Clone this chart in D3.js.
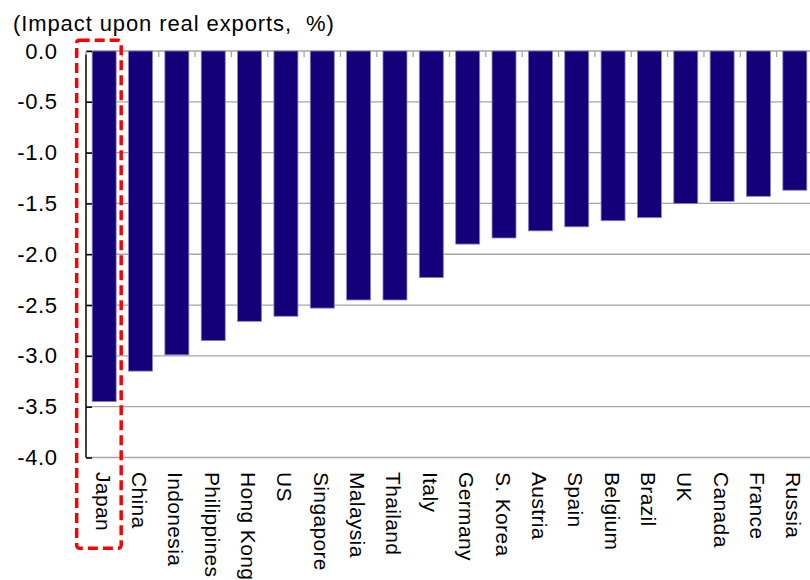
<!DOCTYPE html>
<html>
<head>
<meta charset="utf-8">
<script src="https://cdn.jsdelivr.net/npm/d3@7"></script>
<style>
  html, body { margin: 0; padding: 0; background: #fff; }
  svg { display: block; font-family: "Liberation Sans", Arial, sans-serif; }
</style>
</head>
<body>
<svg id="chart" width="810" height="580"></svg>
<script>
const categories = ["Japan","China","Indonesia","Philippines","Hong Kong","US","Singapore","Malaysia","Thailand","Italy","Germany","S. Korea","Austria","Spain","Belgium","Brazil","UK","Canada","France","Russia"];
const values = [-3.45,-3.15,-2.99,-2.85,-2.66,-2.61,-2.53,-2.45,-2.45,-2.23,-1.90,-1.84,-1.77,-1.73,-1.67,-1.64,-1.50,-1.48,-1.43,-1.37];
const yTicks = [0,-0.5,-1.0,-1.5,-2.0,-2.5,-3.0,-3.5,-4.0];
const titleText = "(Impact upon real exports,  %)";
const highlight = "Japan";

const svg = d3.select("#chart");
const pLeft = 86, pRight = 813, pTop = 51, pBottom = 457.5;

const x = d3.scaleBand().domain(categories).range([pLeft, pRight]).paddingInner(0.34).paddingOuter(0.17);
const y = d3.scaleLinear().domain([0, -4]).range([pTop, pBottom]);

// gridlines
svg.append("g").selectAll("line").data(yTicks).join("line")
  .attr("x1", pLeft).attr("x2", 810)
  .attr("y1", d => y(d)).attr("y2", d => y(d))
  .attr("stroke", "#a6a6a6").attr("stroke-width", 1.3);

// bars
svg.append("g").selectAll("rect").data(categories).join("rect")
  .attr("x", d => x(d))
  .attr("y", y(0))
  .attr("width", x.bandwidth())
  .attr("height", (d, i) => y(values[i]) - y(0))
  .attr("fill", "#140078")
  .attr("stroke", "#8a84c4").attr("stroke-width", 0.8);

// x axis ticks at band boundaries (inward)
const step = x.step();
svg.append("g").selectAll("line").data(categories.slice(1)).join("line")
  .attr("x1", d => x(d) - (step - x.bandwidth()) / 2)
  .attr("x2", d => x(d) - (step - x.bandwidth()) / 2)
  .attr("y1", y(0)).attr("y2", y(0) + 6)
  .attr("stroke", "#a6a6a6").attr("stroke-width", 1.3);

// y axis
const yAxis = d3.axisRight(y).tickValues(yTicks).tickSize(6).tickFormat("");
const ya = svg.append("g").attr("transform", `translate(${pLeft},0)`).call(yAxis);
ya.select(".domain").remove();
ya.selectAll(".tick line").attr("stroke", "#000").attr("stroke-width", 1.5);
svg.append("line").attr("x1", pLeft).attr("x2", pLeft).attr("y1", y(0) + 3).attr("y2", y(-4))
  .attr("stroke", "#000").attr("stroke-width", 1.5);
svg.append("line").attr("x1", pLeft).attr("x2", pLeft).attr("y1", y(0)).attr("y2", y(0) + 4)
  .attr("stroke", "#a6a6a6").attr("stroke-width", 1.5);

// y tick labels
svg.append("g").selectAll("text").data(yTicks).join("text")
  .attr("x", 57.6).attr("y", d => y(d))
  .attr("text-anchor", "end").attr("dominant-baseline", "central")
  .attr("font-size", 22).attr("letter-spacing", 0.6).attr("fill", "#000")
  .text(d => d3.format(".1f")(d).replace("−", "-"));

// x labels
svg.append("g").selectAll("text").data(categories).join("text")
  .attr("transform", d => `translate(${x(d) + x.bandwidth() / 2 - 1},472) rotate(90)`)
  .attr("text-anchor", "start").attr("dominant-baseline", "central")
  .attr("font-size", 21).attr("letter-spacing", 0.35).attr("fill", "#000")
  .text(d => d);

// title
svg.append("text").attr("x", 13).attr("y", 31)
  .attr("font-size", 22).attr("letter-spacing", 0.9).attr("fill", "#000")
  .style("white-space", "pre")
  .text(titleText);

// highlight box
const hx = x(highlight);
svg.append("rect")
  .attr("x", hx - 15.5).attr("y", 40.3)
  .attr("width", 44.5).attr("height", 508)
  .attr("rx", 3)
  .attr("fill", "none").attr("stroke", "#ff0000").attr("stroke-width", 3.5)
  .attr("stroke-dasharray", "10,5");
</script>
</body>
</html>
